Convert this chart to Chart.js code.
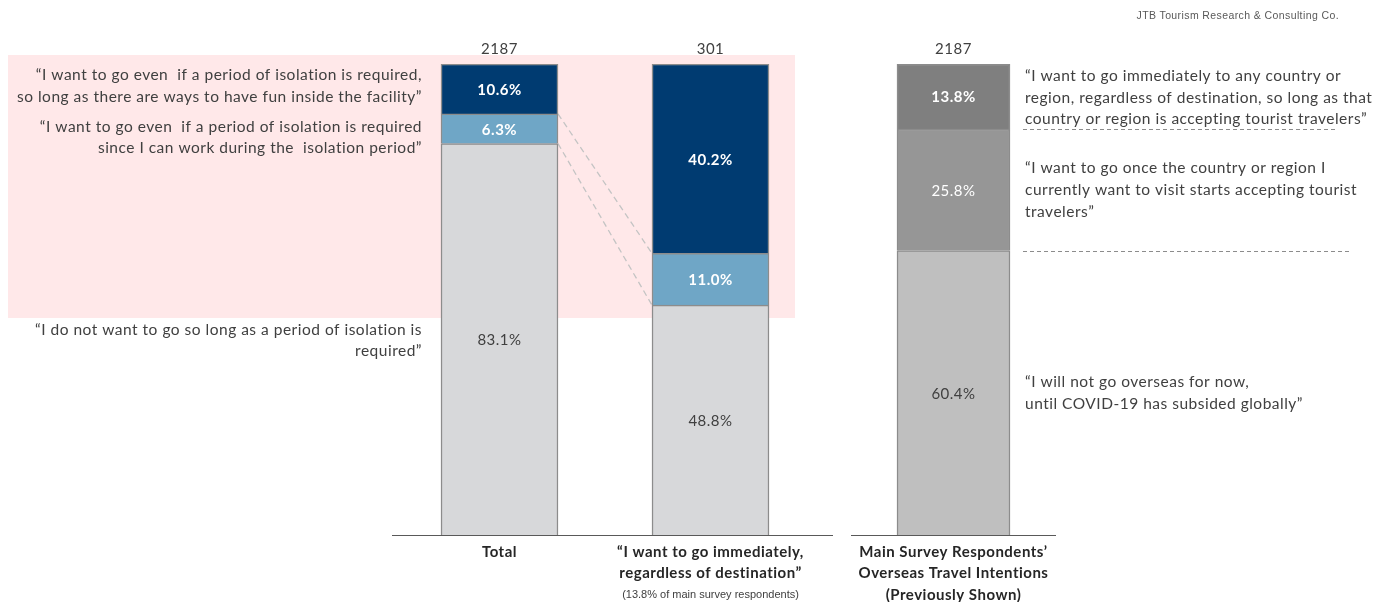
<!DOCTYPE html>
<html>
<head>
<meta charset="utf-8">
<title>Overseas travel and isolation period</title>
<script src="https://cdn.jsdelivr.net/npm/chart.js@4.4.1/dist/chart.umd.min.js"></script>
<style>
  body { margin: 0; background: #fff; }
  #wrap { position: relative; width: 1381px; height: 602px; overflow: hidden; }
  .box { position: absolute; top: 0; height: 602px; }
  #left { left: 0; width: 840px; }
  #right { left: 820px; width: 561px; }
  #credit {
    position: absolute; right: 42px; top: 9px;
    font: 10.5px "Liberation Sans", Arial, sans-serif; color: #595959; letter-spacing: 0.4px;
  }
</style>
</head>
<body>
<div id="wrap">
  <div class="box" id="left"><canvas id="isolationChart"></canvas></div>
  <div class="box" id="right"><canvas id="intentChart"></canvas></div>
  <div id="credit">JTB Tourism Research &amp; Consulting Co.</div>
</div>
<script>
// --- data -----------------------------------------------------------
const isolationLabels = [
  ['Total'],
  ['\u201CI want to go immediately,', 'regardless of destination\u201D']
];
const isolationRespondents = [2187, 301];
const notIfIsolation = [83.1, 48.8];   // % "do not want to go while isolation is required"
const goIfCanWork = [6.3, 11.0];        // % "go even with isolation, can work"
const goIfFun = [10.6, 40.2];           // % "go even with isolation, if fun inside facility"

const intentLabels = [['Main Survey Respondents\u2019', 'Overseas Travel Intentions', '(Previously Shown)']];
const intentRespondents = [2187];
const notUntilSubsided = [60.4];
const onceAccepting = [25.8];
const goImmediately = [13.8];

const isolationNotes = [
  ['\u201CI want to go even  if a period of isolation is required,', 'so long as there are ways to have fun inside the facility\u201D'],
  ['\u201CI want to go even  if a period of isolation is required', 'since I can work during the  isolation period\u201D'],
  ['\u201CI do not want to go so long as a period of isolation is', 'required\u201D']
];
const intentNotes = [
  ['\u201CI want to go immediately to any country or', 'region, regardless of destination, so long as that', 'country or region is accepting tourist travelers\u201D'],
  ['\u201CI want to go once the country or region I', 'currently want to visit starts accepting tourist', 'travelers\u201D'],
  ['\u201CI will not go overseas for now,', 'until COVID-19 has subsided globally\u201D']
];
const subCaption = '(13.8% of main survey respondents)';

// --- styling helpers ------------------------------------------------
const FONT = 'Lato, "Open Sans", sans-serif';
const TEXT = '#404040';
const EDGE = '#8C8C8C';

function drawLines(ctx, lines, x, y, step) {
  lines.forEach((t, i) => ctx.fillText(t, x, y + i * step));
}

// slightly open tracking for every text drawn on the canvases
const tracking = {
  id: 'tracking',
  beforeDraw(chart) { chart.ctx.letterSpacing = '0.5px'; }
};

// value labels inside segments + sample size above each stack
const barText = {
  id: 'barText',
  afterDatasetsDraw(chart, args, opts) {
    const { ctx } = chart;
    ctx.save();
    ctx.textAlign = 'center';
    ctx.textBaseline = 'middle';
    chart.data.datasets.forEach((ds, i) => {
      chart.getDatasetMeta(i).data.forEach((bar, j) => {
        ctx.font = `${ds.labelWeight || 'normal'} 15px ${FONT}`;
        ctx.fillStyle = ds.labelColor;
        ctx.fillText(ds.data[j].toFixed(1) + '%', bar.x, (bar.y + bar.base) / 2 + 1);
      });
    });
    const top = chart.getDatasetMeta(chart.data.datasets.length - 1);
    ctx.font = `15px ${FONT}`;
    ctx.fillStyle = TEXT;
    opts.totals.forEach((n, j) => ctx.fillText(String(n), top.data[j].x, top.data[j].y - 15));
    ctx.restore();
  }
};

// horizontal base line, drawn wider than the plot area
const baseLine = {
  id: 'baseLine',
  afterDatasetsDraw(chart, args, opts) {
    const { ctx, chartArea } = chart;
    ctx.save();
    ctx.strokeStyle = '#595959';
    ctx.lineWidth = 1.2;
    ctx.beginPath();
    ctx.moveTo(opts.from, chartArea.bottom + 0.5);
    ctx.lineTo(opts.to, chartArea.bottom + 0.5);
    ctx.stroke();
    ctx.restore();
  }
};

const barOpts = { borderColor: EDGE, borderWidth: 1.5, borderSkipped: 'start' };

const tickFont = { family: FONT, size: 15, weight: 'bold', lineHeight: '21.5px' };

// --- left chart: isolation period -----------------------------------
const isolationDecor = {
  id: 'isolationDecor',
  beforeDraw(chart) {
    const { ctx } = chart;
    ctx.save();
    ctx.fillStyle = '#FFE8E9';
    ctx.fillRect(8, 55, 787, 263);
    ctx.restore();
  },
  beforeDatasetsDraw(chart) {
    // dashed connectors from the "go" part of Total to the immediate-goers bar
    const { ctx } = chart;
    const mid = chart.getDatasetMeta(1).data;
    const a = mid[0], b = mid[1];
    ctx.save();
    ctx.strokeStyle = '#C4C4C4';
    ctx.lineWidth = 1.3;
    ctx.setLineDash([6, 4]);
    ['y', 'base'].forEach(p => {
      ctx.beginPath();
      ctx.moveTo(a.x + a.width / 2, a[p]);
      ctx.lineTo(b.x - b.width / 2, b[p]);
      ctx.stroke();
    });
    ctx.restore();
  },
  afterDraw(chart) {
    const { ctx } = chart;
    ctx.save();
    ctx.fillStyle = TEXT;
    ctx.textAlign = 'right';
    ctx.textBaseline = 'middle';
    ctx.font = `15.5px ${FONT}`;
    drawLines(ctx, isolationNotes[0], 422, 75, 22);
    drawLines(ctx, isolationNotes[1], 422, 127, 21);
    drawLines(ctx, isolationNotes[2], 422, 330, 21);
    const bar = chart.getDatasetMeta(0).data[1];
    ctx.textAlign = 'center';
    ctx.letterSpacing = '0px';
    ctx.font = '11px "Liberation Sans", Arial, sans-serif';
    ctx.fillText(subCaption, bar.x, 595);
    ctx.restore();
  }
};

new Chart(document.getElementById('isolationChart'), {
  type: 'bar',
  data: {
    labels: isolationLabels,
    datasets: [
      { data: notIfIsolation, backgroundColor: '#D7D8DA', labelColor: TEXT, ...barOpts },
      { data: goIfCanWork, backgroundColor: '#6FA6C6', labelColor: '#fff', labelWeight: 'bold', ...barOpts },
      { data: goIfFun, backgroundColor: '#003B71', labelColor: '#fff', labelWeight: 'bold', ...barOpts }
    ]
  },
  options: {
    responsive: true,
    maintainAspectRatio: false,
    animation: false,
    barThickness: 117,
    layout: { padding: { left: 394, right: 24, top: 64, bottom: 0 } },
    plugins: {
      legend: { display: false }, tooltip: { enabled: false },
      barText: { totals: isolationRespondents },
      baseLine: { from: 392, to: 833 }
    },
    scales: {
      x: {
        stacked: true,
        grid: { display: false },
        border: { display: false },
        afterFit: s => { s.height = 67; },
        ticks: { autoSkip: false, maxRotation: 0, minRotation: 0, padding: -2, color: '#262626', font: tickFont }
      },
      y: { display: false, stacked: true, min: 0, max: 100 }
    }
  },
  plugins: [tracking, isolationDecor, baseLine, barText]
});

// --- right chart: overall intentions --------------------------------
const intentDecor = {
  id: 'intentDecor',
  afterDraw(chart) {
    const { ctx } = chart;
    const mid = chart.getDatasetMeta(1).data[0];
    ctx.save();
    ctx.strokeStyle = '#8C8C8C';
    ctx.lineWidth = 1;
    ctx.setLineDash([4, 3]);
    [[mid.y, 515], [mid.base, 530]].forEach(([y, x2]) => {
      ctx.beginPath();
      ctx.moveTo(203, Math.round(y) + 0.5);
      ctx.lineTo(x2, Math.round(y) + 0.5);
      ctx.stroke();
    });
    ctx.setLineDash([]);
    ctx.fillStyle = TEXT;
    ctx.textAlign = 'left';
    ctx.textBaseline = 'middle';
    ctx.font = `15.5px ${FONT}`;
    drawLines(ctx, intentNotes[0], 205, 76, 21.5);
    drawLines(ctx, intentNotes[1], 205, 168, 22);
    drawLines(ctx, intentNotes[2], 205, 382, 21.5);
    ctx.restore();
  }
};

new Chart(document.getElementById('intentChart'), {
  type: 'bar',
  data: {
    labels: intentLabels,
    datasets: [
      { data: notUntilSubsided, backgroundColor: '#BFBFBF', labelColor: TEXT, ...barOpts },
      { data: onceAccepting, backgroundColor: '#969696', labelColor: '#fff', ...barOpts },
      { data: goImmediately, backgroundColor: '#7F7F7F', labelColor: '#fff', labelWeight: 'bold', ...barOpts }
    ]
  },
  options: {
    responsive: true,
    maintainAspectRatio: false,
    animation: false,
    barThickness: 113,
    layout: { padding: { left: 31, right: 325, top: 64, bottom: 0 } },
    plugins: {
      legend: { display: false }, tooltip: { enabled: false },
      barText: { totals: intentRespondents },
      baseLine: { from: 31, to: 236 }
    },
    scales: {
      x: {
        stacked: true,
        grid: { display: false },
        border: { display: false },
        afterFit: s => { s.height = 67; },
        ticks: { autoSkip: false, maxRotation: 0, minRotation: 0, padding: -2, color: '#262626', font: tickFont }
      },
      y: { display: false, stacked: true, min: 0, max: 100 }
    }
  },
  plugins: [tracking, intentDecor, baseLine, barText]
});
</script>
</body>
</html>
